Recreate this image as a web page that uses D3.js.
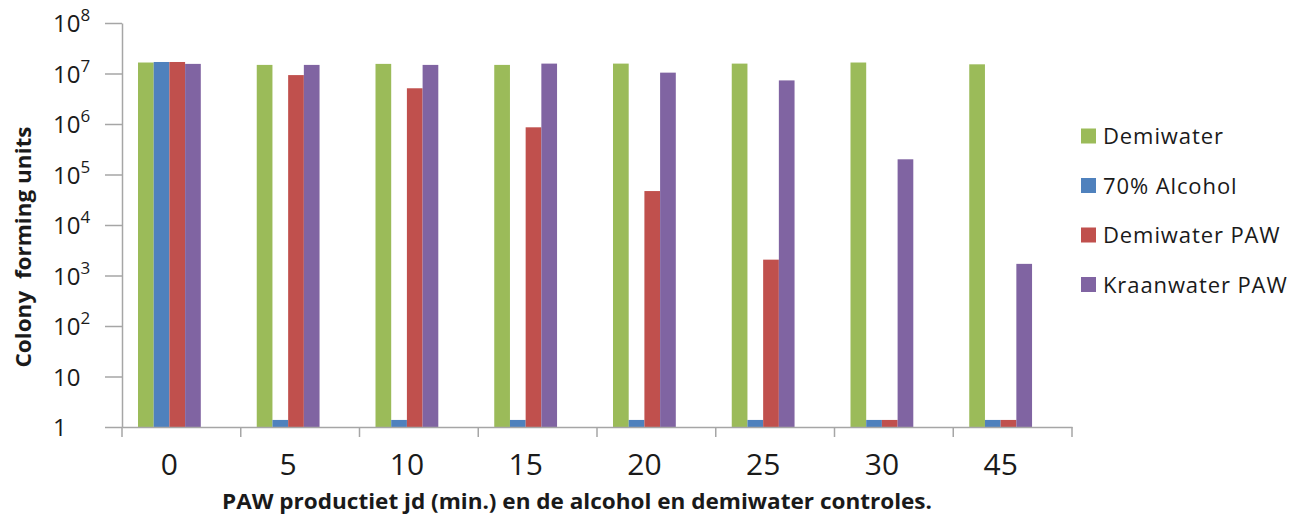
<!DOCTYPE html>
<html>
<head>
<meta charset="utf-8">
<script src="https://cdn.jsdelivr.net/npm/d3@7"></script>
<style>
  html, body { margin: 0; padding: 0; background: #ffffff; }
  svg { display: block; }
  text { fill: #1a1a1a; }
</style>
</head>
<body>
<svg id="chart" width="1304" height="517"></svg>
<script>
// Contact times (minutes) on the x axis
const categories = ["0", "5", "10", "15", "20", "25", "30", "45"];

// Colony forming units per treatment
const seriesNames = ["Demiwater", "70% Alcohol", "Demiwater PAW", "Kraanwater PAW"];
const demiwater     = [1.65e7, 1.48e7, 1.55e7, 1.48e7, 1.57e7, 1.57e7, 1.65e7, 1.52e7];
const alcohol70     = [1.69e7, 1.38, 1.38, 1.38, 1.38, 1.38, 1.38, 1.38];
const demiwaterPAW  = [1.69e7, 9.3e6, 5.1e6, 8.6e5, 4.7e4, 2.06e3, 1.38, 1.38];
const kraanwaterPAW = [1.55e7, 1.48e7, 1.48e7, 1.57e7, 1.04e7, 7.3e6, 2.0e5, 1.7e3];
const seriesValues = [demiwater, alcohol70, demiwaterPAW, kraanwaterPAW];
const seriesColors = ["#9bbb59", "#4f81bd", "#c0504d", "#8064a2"];

// Y axis ticks: powers of ten
const yTickValues = [1, 10, 1e2, 1e3, 1e4, 1e5, 1e6, 1e7, 1e8];
const yTickBase   = ["1", "10", "10", "10", "10", "10", "10", "10", "10"];
const yTickExp    = ["", "", "2", "3", "4", "5", "6", "7", "8"];

const xTitle = "PAW productiet jd (min.) en de alcohol en demiwater controles.";
const yTitle = "Colony  forming units";

const font = "'Open Sans', 'DejaVu Sans', sans-serif";
const axisColor = "#a6a6a6";

const svg = d3.select("#chart");

const plot = { left: 122, right: 1072, top: 23, bottom: 427 };

const x = d3.scaleBand()
  .domain(categories)
  .range([plot.left, plot.right])
  .padding(0);

// bars sit as one cluster near the left of each category slot
const x1 = d3.scaleBand()
  .domain(seriesNames)
  .range([16, 16 + 4 * 15.7])
  .padding(0);

const y = d3.scaleLog()
  .domain([1, 1e8])
  .range([plot.bottom, plot.top]);

// bars
const rows = [];
seriesNames.forEach((s, si) => {
  categories.forEach((c, ci) => {
    rows.push({ series: s, cat: c, value: seriesValues[si][ci], color: seriesColors[si] });
  });
});

svg.append("g")
  .selectAll("rect")
  .data(rows)
  .join("rect")
  .attr("x", d => x(d.cat) + x1(d.series))
  .attr("width", x1.bandwidth())
  .attr("y", d => y(d.value))
  .attr("height", d => y(1) - y(d.value))
  .attr("fill", d => d.color);

// y axis
const yAxis = svg.append("g")
  .attr("transform", `translate(${plot.left},0)`)
  .call(d3.axisLeft(y).tickValues(yTickValues).tickSize(17).tickSizeOuter(0).tickFormat(""));
yAxis.select(".domain").attr("stroke", axisColor).attr("stroke-width", 1.5);
yAxis.selectAll(".tick line").attr("stroke", axisColor).attr("stroke-width", 1.5);

const yLabels = svg.append("g");
yTickValues.forEach((v, i) => {
  const t = yLabels.append("text")
    .attr("x", 53)
    .attr("y", y(v) + 9)
    .attr("font-family", font)
    .attr("font-size", 24);
  t.append("tspan").text(yTickBase[i]);
  if (yTickExp[i]) {
    t.append("tspan")
      .attr("dy", -11)
      .attr("font-size", 17)
      .text(yTickExp[i]);
  }
});

// x axis
const xAxis = svg.append("g")
  .attr("transform", `translate(0,${plot.bottom})`)
  .call(d3.axisBottom(x).tickSize(0).tickFormat(""));
xAxis.select(".domain").attr("stroke", axisColor).attr("stroke-width", 1.5);

const boundaries = categories.map(c => x(c)).concat([x(categories[categories.length - 1]) + x.bandwidth()]);
svg.append("g")
  .selectAll("line")
  .data(boundaries)
  .join("line")
  .attr("x1", d => d).attr("x2", d => d)
  .attr("y1", plot.bottom).attr("y2", plot.bottom + 10)
  .attr("stroke", axisColor)
  .attr("stroke-width", 1.5);

const clusterCenter = x1.range()[0] + (x1.range()[1] - x1.range()[0]) / 2;
svg.append("g")
  .selectAll("text")
  .data(categories)
  .join("text")
  .attr("x", d => x(d) + clusterCenter)
  .attr("y", 475)
  .attr("text-anchor", "middle")
  .attr("font-family", font)
  .attr("font-size", 30)
  .text(d => d);

// axis titles
svg.append("text")
  .attr("x", 577)
  .attr("y", 509)
  .attr("text-anchor", "middle")
  .attr("font-family", font)
  .attr("font-weight", "bold")
  .attr("font-size", 22)
  .attr("textLength", 710)
  .attr("lengthAdjust", "spacingAndGlyphs")
  .text(xTitle);

svg.append("text")
  .attr("transform", `translate(31,247) rotate(-90)`)
  .attr("text-anchor", "middle")
  .attr("font-family", font)
  .attr("font-weight", "bold")
  .attr("font-size", 22)
  .attr("textLength", 241)
  .attr("lengthAdjust", "spacingAndGlyphs")
  .style("white-space", "pre")
  .text(yTitle);

// legend
const legend = svg.append("g");
const legendTop = 136, legendStep = 49.5;
seriesNames.forEach((s, i) => {
  const cy = legendTop + i * legendStep;
  legend.append("rect")
    .attr("x", 1081).attr("y", cy - 7.5)
    .attr("width", 15).attr("height", 15)
    .attr("fill", seriesColors[i]);
  legend.append("text")
    .attr("x", 1103).attr("y", cy + 8)
    .attr("font-family", font)
    .attr("font-size", 22)
    .attr("letter-spacing", 0.9)
    .text(s);
});
</script>
</body>
</html>
